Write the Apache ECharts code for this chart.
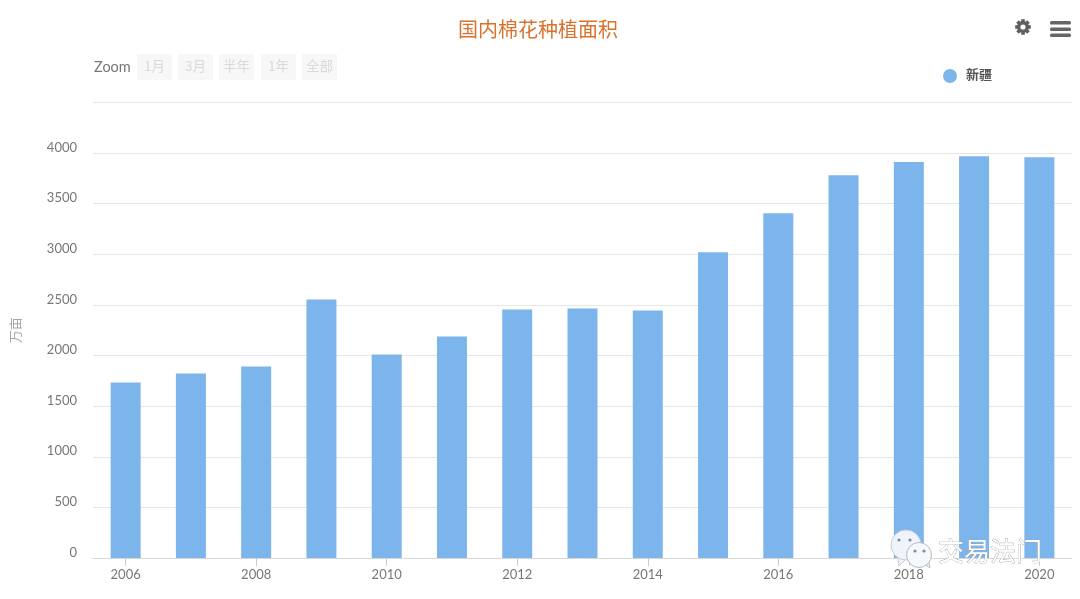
<!DOCTYPE html>
<html>
<head>
<meta charset="utf-8">
<title>国内棉花种植面积</title>
<script src="https://cdn.jsdelivr.net/npm/echarts@6/dist/echarts.min.js"></script>
<style>
html, body { margin: 0; padding: 0; background: #fff; }
#main { width: 1080px; height: 599px; }
</style>
</head>
<body>
<div id="main"></div>
<script>
var years = ['2006', '2007', '2008', '2009', '2010', '2011', '2012', '2013', '2014', '2015', '2016', '2017', '2018', '2019', '2020'];
var xinjiang = [1733, 1822, 1891, 2554, 2010, 2188, 2455, 2465, 2445, 3020, 3406, 3782, 3911, 3970, 3960];
var zoomButtons = ['1月', '3月', '半年', '1年', '全部'];

var uiFont = 'Lato, "Noto Sans CJK SC", sans-serif';
var cjkFont = '"Noto Sans CJK SC", sans-serif';
var serifFont = '"Liberation Serif", "Noto Sans CJK SC", serif';

var myChart = echarts.init(document.getElementById('main'));

// range selector row above the plot, same as the original page header
var graphics = [{
    type: 'text', x: 94, y: 67,
    style: { text: 'Zoom', fill: '#777', fontSize: 14.5, fontFamily: uiFont, verticalAlign: 'middle' }
}];
var zoomX = [137, 178, 219, 261, 302];
zoomButtons.forEach(function (name, i) {
    graphics.push({
        type: 'rect',
        shape: { x: zoomX[i], y: 54, width: 35, height: 26 },
        style: { fill: '#f7f7f7' }
    });
    graphics.push({
        type: 'text',
        x: zoomX[i] + 17.5, y: 65.5,
        style: { text: name, fill: '#dadada', fontSize: 13.5, fontFamily: cjkFont, align: 'center', verticalAlign: 'middle' }
    });
});

// menu icons top right
[0, 45, 90, 135].forEach(function (deg) {
    graphics.push({
        type: 'rect',
        x: 1023, y: 27,
        rotation: deg * Math.PI / 180,
        shape: { x: -1.8, y: -7.8, width: 3.6, height: 15.6 },
        style: { fill: '#5f5f5f' }
    });
});
graphics.push({
    type: 'circle', shape: { cx: 1023, cy: 27, r: 6 },
    style: { fill: '#5f5f5f' }
});
graphics.push({
    type: 'circle', shape: { cx: 1023, cy: 27, r: 2.6 },
    style: { fill: '#fff' }
});
[21, 27.5, 33.5].forEach(function (y) {
    graphics.push({
        type: 'rect',
        shape: { x: 1050, y: y, width: 21, height: 3.6, r: 1.5 },
        style: { fill: '#666' }
    });
});

// watermark
graphics.push({
    type: 'polygon', shape: { points: [[897, 553], [899, 566], [908, 557]] },
    style: { fill: '#eef4fa', stroke: '#c9ced3', lineWidth: 1 }, z: 20
});
graphics.push({
    type: 'circle', shape: { cx: 906, cy: 545, r: 15 },
    style: { fill: '#eef4fa', stroke: '#c9ced3', lineWidth: 1 }, z: 20
});
graphics.push({
    type: 'polygon', shape: { points: [[922, 562], [930, 568], [928, 558]] },
    style: { fill: '#f6f9fc', stroke: '#b5bbc0', lineWidth: 1 }, z: 21
});
graphics.push({
    type: 'circle', shape: { cx: 919, cy: 555, r: 12.5 },
    style: { fill: '#f6f9fc', stroke: '#b5bbc0', lineWidth: 1 }, z: 21
});
[[899, 540], [910, 540], [915, 551], [924, 551]].forEach(function (p) {
    graphics.push({
        type: 'circle', shape: { cx: p[0], cy: p[1], r: 1.6 },
        style: { fill: '#7f8c9a' }, z: 22
    });
});
graphics.push({
    type: 'text', x: 938, y: 551,
    style: { text: '交易法门', fill: '#ffffff', stroke: '#9a9a9a', lineWidth: 0.7, fontSize: 26, fontFamily: cjkFont, verticalAlign: 'middle' },
    z: 22
});

var option = {
    animation: false,
    color: ['#7cb5ec'],
    title: {
        text: '国内棉花种植面积',
        left: 453,
        top: 14,
        textStyle: { color: '#d9722c', fontSize: 20, fontWeight: 'normal', fontFamily: cjkFont }
    },
    legend: {
        data: [{ name: '新疆', icon: 'circle' }],
        left: 938,
        top: 64,
        itemWidth: 14,
        itemHeight: 14,
        textStyle: { color: '#555', fontSize: 13, fontFamily: serifFont, fontWeight: 'bold', padding: [2, 0, 0, 4] }
    },
    grid: { left: 93, right: 8, top: 102.5, bottom: 41, containLabel: false },
    xAxis: {
        type: 'category',
        data: years,
        axisLine: { lineStyle: { color: '#d8d8d8' } },
        axisTick: { show: true, alignWithLabel: true, interval: 1, length: 8, lineStyle: { color: '#ccc' } },
        axisLabel: { interval: 1, color: '#777', fontSize: 13, fontFamily: uiFont, margin: 10 }
    },
    yAxis: {
        type: 'value',
        min: 0,
        max: 4500,
        interval: 500,
        name: '万亩',
        nameLocation: 'middle',
        nameGap: 70,
        nameRotate: 90,
        nameTextStyle: { color: '#a5a5a5', fontSize: 13, fontFamily: serifFont },
        axisLine: { show: false },
        axisTick: { show: false },
        axisLabel: {
            showMaxLabel: false,
            color: '#777',
            fontSize: 13,
            fontFamily: uiFont,
            margin: 16,
            verticalAlign: 'bottom',
            lineHeight: 11,
            formatter: function (value) { return String(value); }
        },
        splitLine: { lineStyle: { color: '#e6e6e6' } }
    },
    graphic: graphics,
    series: [{
        name: '新疆',
        type: 'bar',
        data: xinjiang,
        barWidth: 30,
        itemStyle: { color: '#7cb5ec' }
    }]
};

myChart.setOption(option);
</script>
</body>
</html>
